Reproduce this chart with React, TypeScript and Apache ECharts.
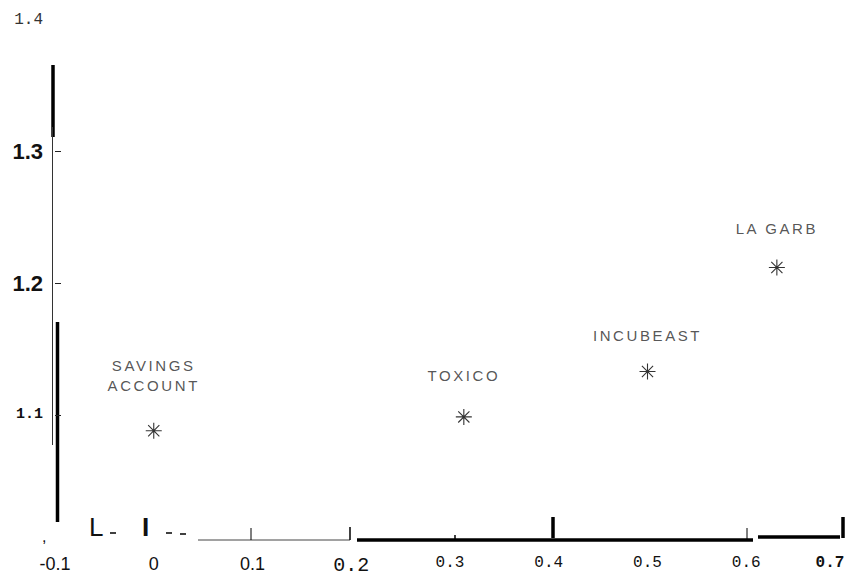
import React, { useEffect, useRef } from 'react';
import * as echarts from 'echarts';

const pointNames = ['SAVINGS\nACCOUNT', 'TOXICO', 'INCUBEAST', 'LA GARB'];
const pointX = [0.0, 0.314, 0.5, 0.631];
const pointY = [1.088, 1.0985, 1.133, 1.212];

const xTicks = [-0.1, 0, 0.1, 0.2, 0.3, 0.4, 0.5, 0.6, 0.7];
const xTickLabels = ['-0.1', '0', '0.1', '0.2', '0.3', '0.4', '0.5', '0.6', '0.7'];
const yTicks = [1.1, 1.2, 1.3, 1.4];
const yTickLabels = ['1.1', '1.2', '1.3', '1.4'];

// styling helpers (not data)
const labelGap = [27, 23, 17, 20];
const xLabelStyle = ['s', 's', 's', 'm2', 'm', 'm', 'm', 'm', 'b'];
const yLabelStyle = ['small', 'big', 'big', 'light'];
const POINT_LABEL_COLOR = '#2a2a2a';

const findIdx = (arr: number[], v: number) => arr.findIndex((a) => Math.abs(a - v) < 1e-9);

const ln = (x1: number, y1: number, x2: number, y2: number, w: number, c = '#000') => ({
  type: 'line',
  silent: true,
  shape: { x1, y1, x2, y2 },
  style: { stroke: c, lineWidth: w },
});

const tx = (x: number, y: number, text: string, size: number, weight = 'normal') => ({
  type: 'text',
  silent: true,
  x,
  y,
  style: { text, fontSize: size, fontFamily: 'Liberation Sans', fontWeight: weight, fill: '#111' },
});

export default function App() {
  const ref = useRef<HTMLDivElement>(null);
  useEffect(() => {
    if (!ref.current) return;
    const chart = echarts.init(ref.current, undefined, { renderer: 'svg' });
    const star = 'path://M10,0 L10,20 M0,10 L20,10 M3,3 L17,17 M3,17 L17,3';
    chart.setOption({
      animation: false,
      backgroundColor: '#fff',
      grid: { left: 55, right: 5, top: 20, bottom: 35, outerBoundsMode: 'none', containLabel: false },
      xAxis: {
        type: 'value',
        min: -0.1,
        max: 0.7,
        axisLine: { show: false, onZero: false },
        axisTick: { show: false },
        splitLine: { show: false },
        axisLabel: {
          customValues: xTicks,
          margin: 15,
          formatter: (v: number) => {
            const i = findIdx(xTicks, v);
            if (i < 0) return '';
            return `{${xLabelStyle[i]}|${xTickLabels[i]}}`;
          },
          rich: {
            s: { fontFamily: 'Liberation Sans', fontSize: 18, color: '#111' },
            m2: { fontFamily: 'Liberation Mono', fontSize: 20, color: '#111' },
            m: { fontFamily: 'Liberation Mono', fontSize: 16, color: '#111' },
            b: { fontFamily: 'Liberation Mono', fontSize: 16, fontWeight: 'bold', color: '#111', padding: [0, 30, 0, 0] },
          },
        },
      },
      yAxis: {
        type: 'value',
        min: 1.005,
        max: 1.4,
        axisLine: { show: false, onZero: false },
        axisTick: {
          show: true,
          inside: true,
          length: 6,
          customValues: [1.1, 1.2, 1.3],
          lineStyle: { color: '#222', width: 1 },
        },
        splitLine: { show: false },
        axisLabel: {
          customValues: yTicks,
          margin: 12,
          formatter: (v: number) => {
            const i = findIdx(yTicks, v);
            if (i < 0) return '';
            return `{${yLabelStyle[i]}|${yTickLabels[i]}}`;
          },
          rich: {
            small: { fontFamily: 'Liberation Mono', fontSize: 15, fontWeight: 'bold', color: '#111' },
            big: { fontFamily: 'Liberation Sans', fontSize: 22, fontWeight: 'bold', color: '#111' },
            light: { fontFamily: 'Liberation Mono', fontSize: 16, color: '#333' },
          },
        },
      },
      series: [
        {
          type: 'scatter',
          symbol: star,
          symbolSize: 16,
          itemStyle: { color: 'rgba(0,0,0,0)', borderColor: '#000', borderWidth: 1.1 },
          label: {
            show: true,
            position: 'top',
            formatter: (p: any) => p.name,
            fontFamily: 'Liberation Sans',
            fontSize: 15,
            lineHeight: 20,
            color: POINT_LABEL_COLOR,
          },
          data: pointNames.map((n, i) => ({
            name: n,
            value: [pointX[i], pointY[i]],
            label: { distance: labelGap[i] },
          })),
        },
      ],
      graphic: [
        // y axis (scanned, broken strokes)
        ln(53, 65, 53, 137, 3.5),
        ln(52.5, 127, 52.5, 445, 1, '#333'),
        ln(57.5, 322, 57.5, 522, 3.5),
        // x axis
        tx(42, 528, ',', 16),
        tx(89, 514, 'L', 26),
        tx(142, 514, 'I', 26, 'bold'),
        ln(110, 533, 116, 533, 1.5),
        ln(166, 533, 172, 533, 1.5),
        ln(180, 534, 186, 534, 1.5),
        ln(198, 540, 350, 540, 1, '#444'),
        ln(251, 528, 251, 540, 1),
        ln(350, 527, 350, 540, 1.5),
        ln(357, 540, 753, 540, 3.5),
        ln(455, 535, 455, 540, 1.5),
        ln(553, 517, 553, 538, 3.5),
        ln(747, 528, 747, 540, 1),
        ln(758, 537, 840, 537, 3.5),
        ln(843, 517, 843, 538, 3.5),
      ],
    });
    return () => chart.dispose();
  }, []);
  return (
    <>
      <style>{`#scan-chart text[fill="${POINT_LABEL_COLOR}"], #scan-chart text[style*="${POINT_LABEL_COLOR}"] { letter-spacing: 2.6px; }`}</style>
      <div id="scan-chart" ref={ref} style={{ width: 850, height: 575, position: 'absolute', left: 0, top: 0 }} />
    </>
  );
}
